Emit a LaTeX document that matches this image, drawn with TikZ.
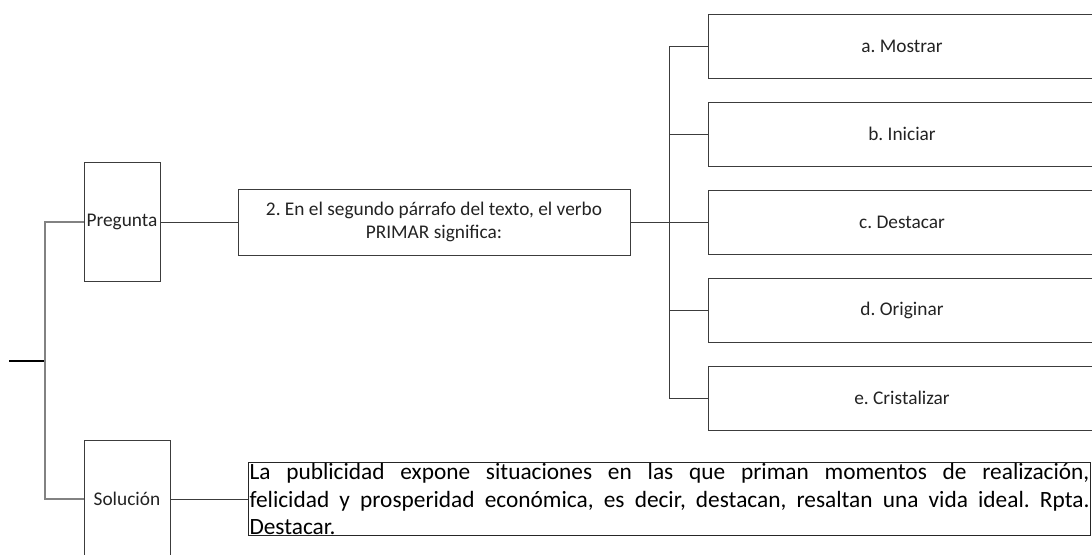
\documentclass[tikz,border=0pt]{standalone}
\usepackage{fontspec}
\setmainfont{Carlito}
\usepackage{xcolor}
\usetikzlibrary{positioning,calc}
\definecolor{boxline}{RGB}{60,60,60}
\definecolor{trunkgray}{RGB}{130,130,130}
\definecolor{labeltext}{RGB}{35,35,35}
\frenchspacing

\begin{document}
\begin{tikzpicture}[
  x=0.75pt, y=-0.75pt,
  every node/.style={font=\fontsize{14.5}{17.5}\selectfont, text=labeltext},
  tagbox/.style={draw=boxline, line width=0.6pt, inner sep=1pt, align=center},
  optbox/.style={draw=boxline, line width=0.6pt, minimum width=291pt,
                 minimum height=48pt, inner sep=1pt},
  link/.style={draw=boxline, line width=0.6pt},
  trunk/.style={draw=trunkgray, line width=0.9pt},
]

% ===== Overall dimensions (pixel grid, y downwards) =====
\useasboundingbox (0,0) rectangle (1092,554);

%% ---- LEFT: root stub and two headings ----
\coordinate (stub) at (9,361);
\coordinate (root) at (45,361);
\draw[black, line width=1.3pt] (stub) -- (root);

\node[tagbox, minimum width=57pt, minimum height=89pt] (pregunta) at (122,222)
  {Pregunta};
\node[tagbox, minimum width=64.5pt, minimum height=88.5pt] (solucion) at (127,499)
  {Solución};

% Trunk: root -> both headings
\draw[trunk] (pregunta.west) -| (root) |- (solucion.west);

%% ---- MIDDLE: the question ----
\node[tagbox, minimum width=294pt, minimum height=49.5pt] (pregunta2) at (434,222)
  {2. En el segundo párrafo del texto, el verbo\\PRIMAR significa:};
\draw[link] (pregunta.east) -- (pregunta2.west);

%% ---- RIGHT: answer options ----
\coordinate (branch) at (669,222);
\draw[link] (pregunta2.east) -- (branch);

\foreach \name/\yy/\txt in {mostrar/46/a. Mostrar, iniciar/134/b. Iniciar,
    destacar/222/c. Destacar, originar/310/d. Originar,
    cristalizar/398/e. Cristalizar}{
  \node[optbox] (\name) at (902,\yy) {\txt};
  \draw[link] (branch) |- (\name.west);
}

%% ---- BOTTOM: the worked answer ----
\node[draw=black!85, line width=0.6pt, inner sep=0.8pt, text width=630pt,
      align=justify, text=black,
      font=\fontsize{17.5}{20.6}\selectfont] (respuesta) at (669.5,499)
  {La publicidad expone situaciones en las que priman momentos de realización,\linebreak
   felicidad y prosperidad económica, es decir, destacan, resaltan una vida ideal. Rpta.\linebreak
   Destacar.};
\draw[link] (solucion.east) -- (respuesta.west);

\end{tikzpicture}
\end{document}
